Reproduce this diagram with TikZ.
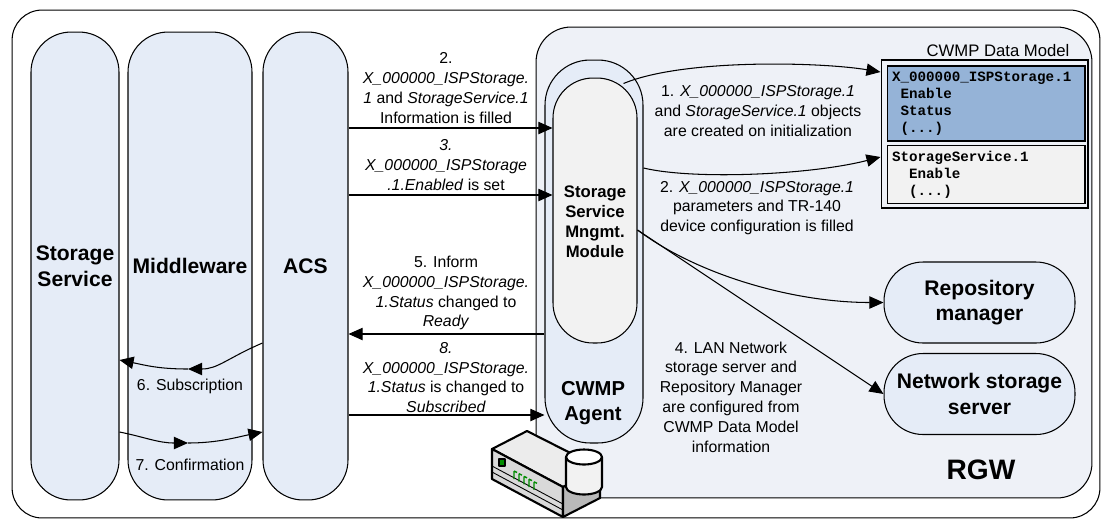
\documentclass[tikz,border=0pt]{standalone}
\usepackage{fontspec}
\setmainfont{Liberation Sans}
\setmonofont{Liberation Mono}
\usetikzlibrary{arrows.meta,positioning,calc}
\definecolor{colfill}{RGB}{229,236,247}
\definecolor{gwfill}{RGB}{238,241,247}
\definecolor{modfill}{RGB}{242,242,242}
\definecolor{objfill}{RGB}{149,179,215}

\begin{document}
\begin{tikzpicture}[x=0.02cm,y=-0.02cm,line width=0.6pt,>={Triangle[length=8pt,width=7pt]},
 font=\fontsize{9}{11.3}\selectfont,
 lbl/.style={align=center,inner sep=0pt},
 col/.style={draw,fill=colfill,rounded corners=0.8cm,minimum height=9.36cm,inner sep=0pt,
   align=center,font=\fontsize{12}{14.5}\selectfont\bfseries},
 box/.style={draw,fill=colfill,rounded corners=0.78cm,minimum width=3.82cm,minimum height=1.62cm,
   align=center,font=\fontsize{12}{14.5}\selectfont\bfseries},
 obj/.style={draw,minimum width=3.96cm,text width=3.76cm,inner xsep=0.1cm,align=left,
   font=\ttfamily\bfseries\fontsize{8.1}{9.6}\selectfont},
 tag/.style={align=center,font=\fontsize{11.5}{14.2}\selectfont\bfseries}]
\useasboundingbox (0,0) rectangle (1102,522);
\node[draw,fill=white,rounded corners=0.6cm,minimum width=21.76cm,minimum height=10.16cm] (frame) at (556,264) {};

\node[col,minimum width=1.76cm] (ss) at (75,266) {Storage\\Service};
\node[col,minimum width=2.48cm] (mw) at (190,266) {Middleware};
\node[col,minimum width=1.7cm] (acs) at (305.5,266) {ACS};

\node[draw,fill=gwfill,rounded corners=0.7cm,minimum width=11.12cm,minimum height=9.42cm] (rgw) at (814,262.5) {};
\node[font=\fontsize{16}{18}\selectfont\bfseries] (rgwtxt) at (981,470) {RGW};
\node[draw,fill=colfill,rounded corners=0.9cm,minimum width=1.96cm,minimum height=7.66cm] (agent) at (594,251.5) {};
\node[draw,fill=modfill,rounded corners=0.8cm,minimum width=1.68cm,minimum height=5.3cm] (mod) at (595,210.5) {};
\node[align=center,font=\fontsize{9.5}{11.3}\selectfont\bfseries] (modtxt) at (595,222) {Storage\\Service\\Mngmt.\\Module};
\node[tag] (agtxt) at (593,403.5) {CWMP\\Agent};

\node[box] (repo) at (979.5,302.5) {Repository\\manager};
\node[box] (nss) at (979.5,394) {Network storage\\server};

\node[draw,fill=gwfill,minimum width=4.14cm,minimum height=2.96cm] (dm) at (984.5,134) {};
\node[font=\fontsize{9.5}{11.3}\selectfont] (dmtitle) at (998,51) {CWMP Data Model};
\node[obj,fill=objfill,minimum height=1.5cm] (isp) at (986,103.5)
  {X\_000000\_ISPStorage.1\\\phantom{X}Enable\\\phantom{X}Status\\\phantom{X}(...)};
\node[obj,fill=modfill,minimum height=1.06cm] (ssobj) at (986,174.5)
  {StorageService.1\\\phantom{XX}Enable\\\phantom{XX}(...)};

\node[lbl] (l2) at (446,88) {2.\\\textit{X\_000000\_ISPStorage.}\\\textit{1} and \textit{StorageService.1}\\Information is filled};
\node[lbl] (l3) at (446,165) {\textit{3.}\\\textit{X\_000000\_ISPStorage}\\\textit{.1.Enabled} is set};
\node[lbl] (l5) at (446,293) {5. Inform\\\textit{X\_000000\_ISPStorage.}\\\textit{1.Status} changed to\\\textit{Ready}};
\node[lbl] (l8) at (446,377.5) {\textit{8.}\\\textit{X\_000000\_ISPStorage.}\\\textit{1.Status} is changed to\\\textit{Subscribed}};
\node[lbl] (l1) at (758,111) {1. \textit{X\_000000\_ISPStorage.1}\\and \textit{StorageService.1} objects\\are created on initialization};
\node[lbl] (l2r) at (757,208) {2. \textit{X\_000000\_ISPStorage.1}\\parameters and TR-140\\device configuration is filled};
\node[lbl] (l4) at (731,397) {4. LAN Network\\storage server and\\Repository Manager\\are configured from\\CWMP Data Model\\information};
\node[lbl] (l6) at (190,386) {6. Subscription};
\node[lbl] (l7) at (190,465) {7. Confirmation};

\draw[->] (acs.east |- 0,128) -- (mod.west |- 0,128);
\draw[->] (acs.east |- 0,195) -- (mod.west |- 0,195);
\draw[->] (agent.west |- 0,334) -- (acs.east |- 0,334);
\draw[->] (acs.east |- 0,415) -- (agent.west |- 0,415);

\draw[->] ($(mod.north east)+(-14,6)$) .. controls +(60,-25) and +(-60,-10) .. (dm.west |- 0,72);
\draw[->] (agent.east |- 0,168) .. controls +(50,12) and +(-70,18) .. (dm.west |- 0,157);
\draw[->] (mod.east |- 0,230) .. controls +(60,45) and +(-90,0) .. (repo.west);
\draw[->] (mod.east |- 0,230) -- (nss.west);

\coordinate (m6) at (188,369);
\coordinate (m7) at (188,443);
\draw[->] (acs.west |- 0,343) .. controls +(-35,15) and +(30,0) .. (m6);
\draw[->] (m6) .. controls +(-30,0) and +(25,5) .. (ss.east |- 0,360);
\draw[->] (ss.east |- 0,432) .. controls +(25,5) and +(-30,0) .. (m7);
\draw[->] (m7) .. controls +(30,0) and +(-25,5) .. (acs.west |- 0,432);

\begin{scope}[line width=1.2pt,line join=round]
\draw[fill=gray!15] (492,449) -- (527,431) -- (600,468) -- (563,487) -- cycle;
\draw[fill=gray!30] (492,449) -- (563,487) -- (563,517) -- (492,479) -- cycle;
\draw[fill=gray!55] (563,487) -- (600,468) -- (600,498) -- (563,517) -- cycle;
\draw[line width=0.5pt] (492,466) -- (563,504);
\draw[line width=0.5pt] (492,472) -- (563,510);
\draw[line width=0.6pt,fill=green!55!black] (499,459) rectangle (505,466);
\foreach \i in {0,...,4}
  \draw[green!55!black,line width=0.8pt] ({514+5*\i},{471+2.7*\i}) -- +(0,8) +(0,0) -- +(3,1.5);
\draw[fill=gray!10] (566,457) -- (566,487) arc[start angle=180,end angle=360,x radius=0.36cm,y radius=0.15cm] -- (602,457);
\draw[fill=white] (584,457) ellipse[x radius=0.36cm,y radius=0.15cm];
\end{scope}
\end{tikzpicture}
\end{document}
